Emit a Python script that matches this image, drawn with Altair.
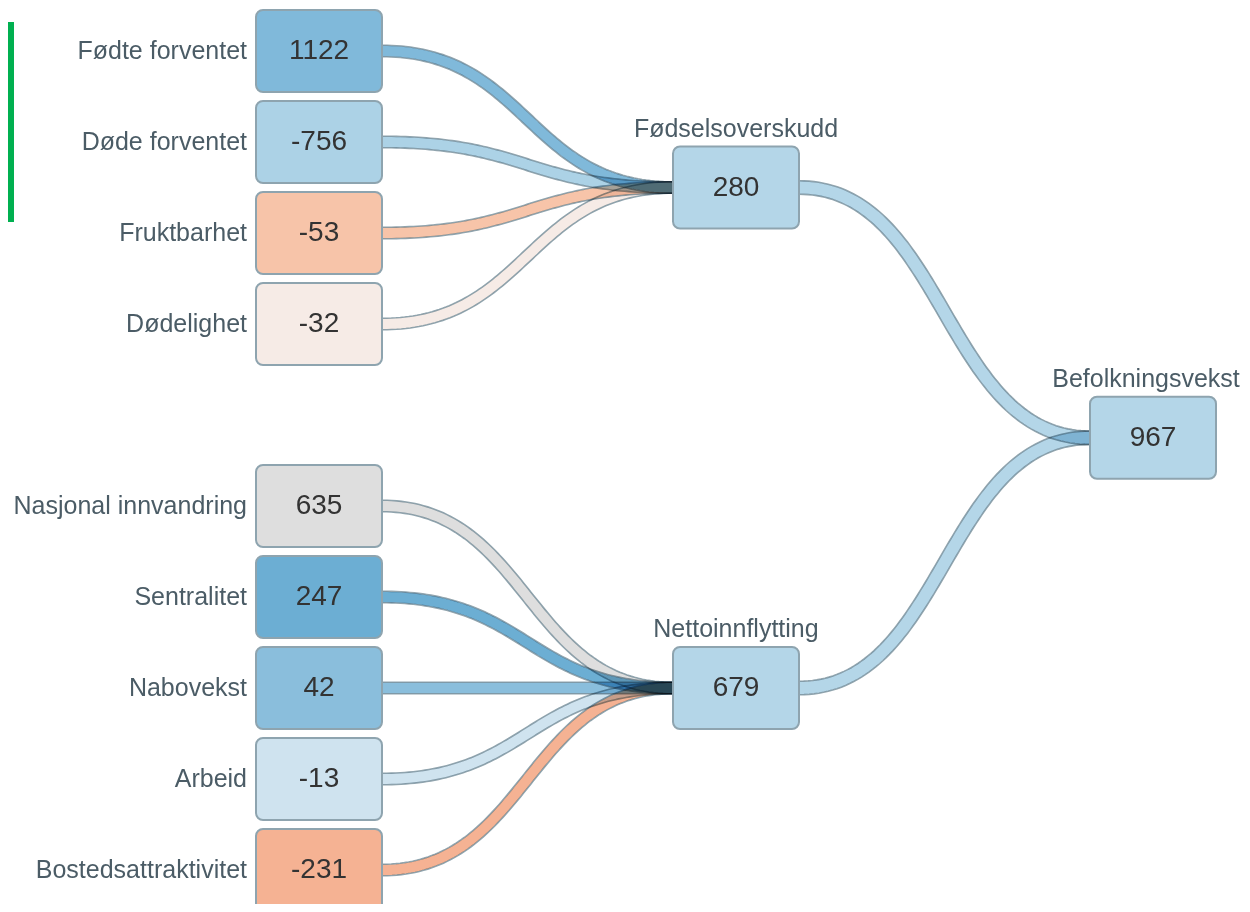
import altair as alt
import numpy as np
import pandas as pd

# ---------------- data ----------------
node_names = ["Fødte forventet", "Døde forventet", "Fruktbarhet", "Dødelighet",
              "Nasjonal innvandring", "Sentralitet", "Nabovekst", "Arbeid",
              "Bostedsattraktivitet", "Fødselsoverskudd", "Nettoinnflytting",
              "Befolkningsvekst"]
node_values = [1122, -756, -53, -32, 635, 247, 42, -13, -231, 280, 679, 967]
node_colors = ["#80b9da", "#acd2e6", "#f7c4a9", "#f6ebe6", "#dedede", "#6caed3",
               "#8abedc", "#cfe3ef", "#f5b293", "#b4d6e8", "#b4d6e8", "#b4d6e8"]
node_parent = ["Fødselsoverskudd"] * 4 + ["Nettoinnflytting"] * 5 + ["Befolkningsvekst"] * 2 + [""]
leaf_slots = [0, 1, 2, 3, 5, 6, 7, 8, 9]   # vertical slot of each leaf (slot 4 = gap)

# ---------------- layout ----------------
W, H = 1234, 896
COL_X0, COL_STEP, NODE_W, NODE_H = 248, 417, 126, 82
ROW_TOP0, ROW_STEP = 2, 91
LINK_W = {1: 10.5, 2: 12.5}      # band width by target column
EDGE_W = 1.6
LABEL_HALF = 96                   # keep top labels inside the canvas

col, cy = {}, {}
for i, name in enumerate(node_names):
    if i < len(leaf_slots):
        col[name] = 0
        cy[name] = ROW_TOP0 + NODE_H / 2 + ROW_STEP * leaf_slots[i]
for level in (1, 2):
    for name in node_names:
        if name in cy:
            continue
        kids = [n for n, p in zip(node_names, node_parent) if p == name]
        if all(k in cy for k in kids) and max(col[k] for k in kids) == level - 1:
            col[name] = level
            cy[name] = float(np.mean([cy[k] for k in kids]))

nodes = pd.DataFrame({"name": node_names, "value": node_values, "color": node_colors})
nodes["label"] = [str(v) for v in node_values]
nodes["x0"] = [COL_X0 + COL_STEP * col[n] for n in node_names]
nodes["x1"] = nodes["x0"] + NODE_W
nodes["xc"] = nodes["x0"] + NODE_W / 2
nodes["cy"] = [cy[n] for n in node_names]
nodes["y0"] = nodes["cy"] - NODE_H / 2
nodes["y1"] = nodes["cy"] + NODE_H / 2
nodes["leaf"] = [col[n] == 0 for n in node_names]
nodes["lx_leaf"] = nodes["x0"] - 9
nodes["lx_top"] = np.minimum(nodes["xc"], W - LABEL_HALF)
nodes["ly_top"] = nodes["y0"] - 10

fill_rows, edge_rows = [], []
ts = np.linspace(0, 1, 90)
lid = 0
for name, parent, color in zip(node_names, node_parent, node_colors):
    if not parent:
        continue
    sx = COL_X0 + COL_STEP * col[name] + NODE_W
    tx = COL_X0 + COL_STEP * col[parent]
    sy, ty = cy[name], cy[parent]
    mx = (sx + tx) / 2
    a, b, c, d = (1 - ts) ** 3, 3 * (1 - ts) ** 2 * ts, 3 * (1 - ts) * ts ** 2, ts ** 3
    px = a * sx + b * mx + c * mx + d * tx
    py = a * sy + b * sy + c * ty + d * ty
    dx = 3 * (1 - ts) ** 2 * (mx - sx) + 3 * ts ** 2 * (tx - mx)
    dy = 6 * (1 - ts) * ts * (ty - sy)
    nrm = np.hypot(dx, dy)
    nx, ny = -dy / nrm, dx / nrm
    w = LINK_W[col[parent]]
    for t, x, y in zip(ts, px, py):
        fill_rows.append({"link": lid, "t": t, "color": color, "x": x, "y": y, "w": w})
    for side in (-1, 1):
        off = side * (w / 2 + EDGE_W / 2 - 0.3)
        for t, x, y, ex, ey in zip(ts, px, py, nx, ny):
            edge_rows.append({"link": lid, "side": side, "t": t,
                              "x": x + off * ex, "y": y + off * ey})
    lid += 1
fills = pd.DataFrame(fill_rows)
edges = pd.DataFrame(edge_rows)

# ---------------- chart ----------------
xs = alt.Scale(domain=[0, W], nice=False, zero=False)
ys = alt.Scale(domain=[0, H], nice=False, zero=False, reverse=True)

link_fill = alt.Chart(fills).mark_line(strokeCap="butt", blend="multiply").encode(
    x=alt.X("x:Q", scale=xs, axis=None), y=alt.Y("y:Q", scale=ys, axis=None),
    order="t:Q", detail="link:N",
    color=alt.Color("color:N", scale=None),
    strokeWidth=alt.StrokeWidth("w:Q", scale=None))

link_edge = alt.Chart(edges).mark_line(strokeCap="butt", blend="multiply",
                                       color="#8fa3ad", strokeWidth=EDGE_W).encode(
    x=alt.X("x:Q", scale=xs, axis=None), y=alt.Y("y:Q", scale=ys, axis=None),
    order="t:Q", detail=["link:N", "side:N"])

nbase = alt.Chart(nodes)
rects = nbase.mark_rect(cornerRadius=7, stroke="#8ea4af", strokeWidth=2, clip=True).encode(
    x=alt.X("x0:Q", scale=xs, axis=None), x2="x1:Q",
    y=alt.Y("y0:Q", scale=ys, axis=None), y2="y1:Q",
    fill=alt.Color("color:N", scale=None))
vals = nbase.mark_text(fontSize=28, color="#333333", baseline="middle", align="center",
                       font="Liberation Sans").encode(
    x=alt.X("xc:Q", scale=xs, axis=None), y=alt.Y("cy:Q", scale=ys, axis=None),
    text="label:N")
leaf_labels = nbase.transform_filter(alt.datum.leaf).mark_text(
    fontSize=25, color="#4b5c66", align="right", baseline="middle",
    font="Liberation Sans").encode(
    x=alt.X("lx_leaf:Q", scale=xs, axis=None), y=alt.Y("cy:Q", scale=ys, axis=None),
    text="name:N")
top_labels = nbase.transform_filter(~alt.datum.leaf).mark_text(
    fontSize=25, color="#4b5c66", align="center", baseline="alphabetic",
    font="Liberation Sans").encode(
    x=alt.X("lx_top:Q", scale=xs, axis=None), y=alt.Y("ly_top:Q", scale=ys, axis=None),
    text="name:N")

green = alt.Chart(pd.DataFrame({"a": [0]})).mark_rect(color="#00b050").encode(
    x=alt.value(0), x2=alt.value(6), y=alt.value(14), y2=alt.value(214))

chart = alt.layer(green, link_fill, link_edge, rects, vals, leaf_labels, top_labels).properties(
    width=W, height=H, padding=0,
    autosize=alt.AutoSizeParams(type="none"),
).configure_view(stroke=None)

chart.save("out.html", embed_options={"renderer": "svg", "actions": False})
